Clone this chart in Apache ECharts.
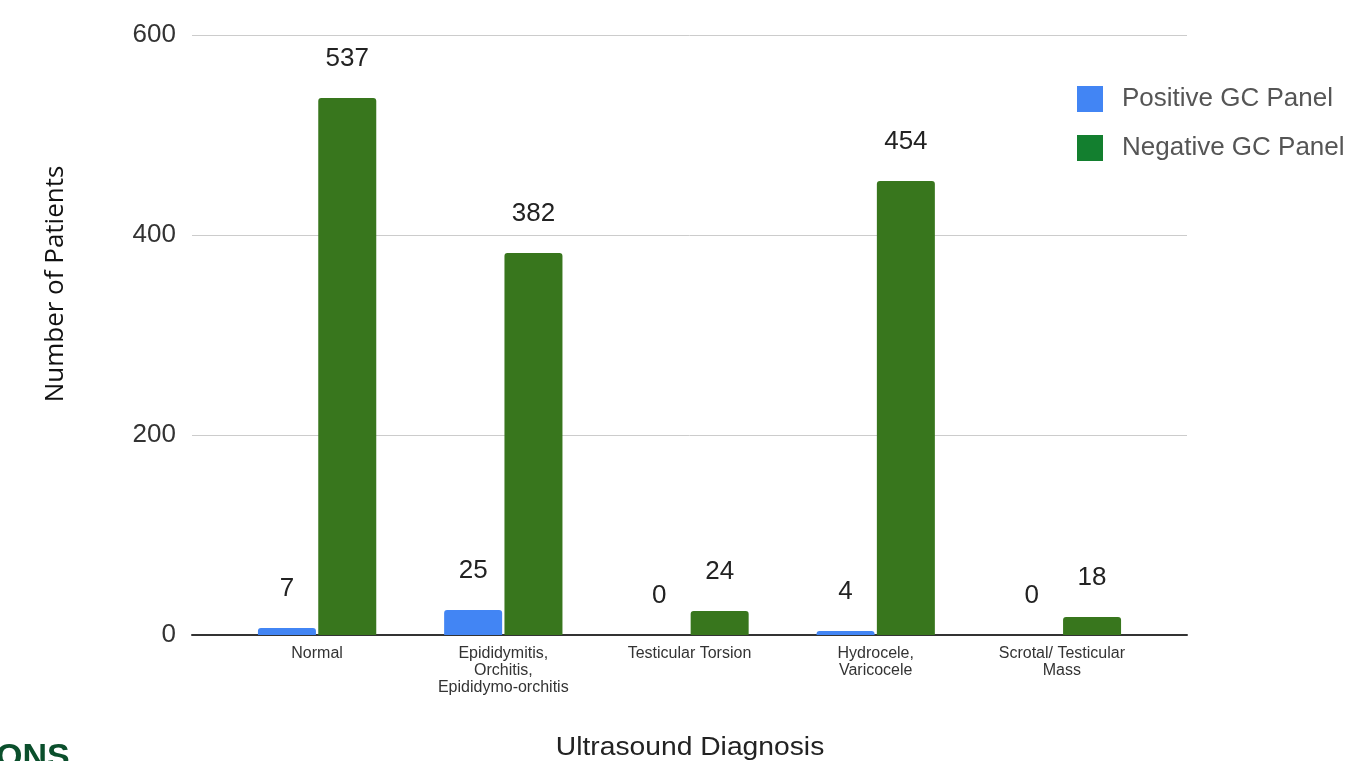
<!DOCTYPE html>
<html>
<head>
<meta charset="utf-8">
<script src="https://cdn.jsdelivr.net/npm/echarts@6/dist/echarts.min.js"></script>
<style>
html,body{margin:0;padding:0;background:#fff;}
#chart{width:1350px;height:761px;}
</style>
</head>
<body>
<div id="chart"></div>
<script>
var categories = ['Normal', 'Epididymitis,\nOrchitis,\nEpididymo-orchitis', 'Testicular Torsion', 'Hydrocele,\nVaricocele', 'Scrotal/ Testicular\nMass'];
var positiveGC = [7, 25, 0, 4, 0];
var negativeGC = [537, 382, 24, 454, 18];
var seriesNames = ['Positive GC Panel', 'Negative GC Panel'];
var yTicks = [0, 200, 400, 600];

var FF = "'Liberation Sans', Arial, sans-serif";
var chart = echarts.init(document.getElementById('chart'));
var labelStyle = {show: true, position: 'top', distance: 26, fontSize: 26, color: '#222', fontFamily: FF};
chart.setOption({
  animation: false,
  backgroundColor: '#fff',
  textStyle: {fontFamily: FF},
  grid: [
    {left: 192, right: 163, top: 35, bottom: 126},
    {left: 224, right: 195, top: 35, bottom: 126}
  ],
  xAxis: [
    {gridIndex: 0, type: 'value', min: 0, max: 1, axisLine: {show: true, lineStyle: {color: '#333', width: 2}}, axisTick: {show: false}, axisLabel: {show: false}, splitLine: {show: false}},
    {gridIndex: 1, type: 'category', data: categories, axisLine: {show: false}, axisTick: {show: false},
      axisLabel: {fontSize: 16, color: '#333', margin: 10, lineHeight: 17, interval: 0, fontFamily: FF}}
  ],
  yAxis: [
    {gridIndex: 0, type: 'value', min: yTicks[0], max: yTicks[yTicks.length - 1], interval: 200,
      axisLine: {show: false}, axisTick: {show: false},
      axisLabel: {fontSize: 26, color: '#333', margin: 16, fontFamily: FF},
      splitLine: {lineStyle: {color: '#cccccc', width: 1}}},
    {gridIndex: 1, type: 'value', min: 0, max: 600, interval: 200, show: false, splitLine: {show: false}}
  ],
  legend: {
    orient: 'vertical', left: 1077, top: 86, padding: 0, itemWidth: 26, itemHeight: 26, itemGap: 23, icon: 'rect',
    textStyle: {fontSize: 26, color: '#555', padding: [0, 0, 0, 14], fontFamily: FF},
    data: [
      {name: seriesNames[0], itemStyle: {color: '#4285f4'}},
      {name: seriesNames[1], itemStyle: {color: '#137f2f'}}
    ]
  },
  series: [
    {name: seriesNames[0], type: 'bar', xAxisIndex: 1, yAxisIndex: 1, data: positiveGC, barWidth: 58, barGap: '4%',
      itemStyle: {color: '#4285f4', borderRadius: [3, 3, 0, 0]}, label: labelStyle},
    {name: seriesNames[1], type: 'bar', xAxisIndex: 1, yAxisIndex: 1, data: negativeGC, barWidth: 58, barGap: '4%',
      itemStyle: {color: '#38761d', borderRadius: [3, 3, 0, 0]}, label: labelStyle}
  ],
  graphic: [
    {type: 'text', x: 56, y: 284, rotation: Math.PI / 2,
      style: {text: 'Number of Patients', fontSize: 26, fontFamily: "'Open Sans', 'Noto Sans', sans-serif", fill: '#111', align: 'center', verticalAlign: 'middle'}},
    {type: 'text', x: 690, y: 748, scaleX: 1.13,
      style: {text: 'Ultrasound Diagnosis', fontSize: 25, fontFamily: FF, fill: '#222', align: 'center', verticalAlign: 'middle'}},
    {type: 'text', x: -4, y: 741,
      style: {text: 'ONS', fontSize: 34, fontWeight: 'bold', fontFamily: FF, fill: '#0b4f2c', align: 'left', verticalAlign: 'top'}}
  ]
});
</script>
</body>
</html>
